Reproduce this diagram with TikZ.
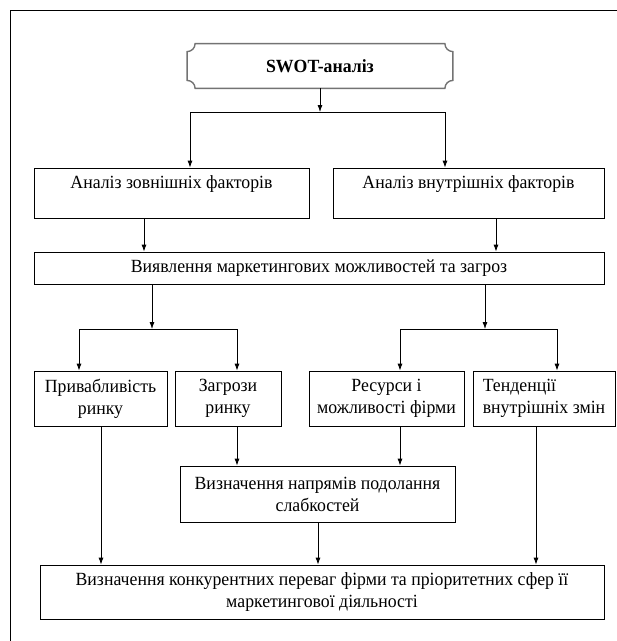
\documentclass[tikz,border=0pt]{standalone}
\usepackage{fontspec}
\setmainfont[FakeStretch=0.955]{Liberation Serif}
\usetikzlibrary{arrows.meta}
\begin{document}
\begin{tikzpicture}[x=1pt, y=1pt, line width=0.8pt, >={Latex[length=7pt,width=5pt]},
  main/.style = {draw, inner sep=0pt, align=center, font=\fontsize{18.6}{22}\selectfont},
  plaque/.style = {draw=black!55, line width=1.4pt}]
\useasboundingbox (0,0) rectangle (617,-641);
\draw[line width=1pt] (617,-10) -- (10,-10) -- (10,-641);
\node[main, draw=none, minimum width=265pt, minimum height=44pt] (1) at (320,-66) {\textbf{SWOT-аналіз}};
\draw[plaque] ([xshift=8pt]1.north west) -- ([xshift=-8pt]1.north east) arc[start angle=180, end angle=270, radius=8pt]
  -- ([yshift=8pt]1.south east) arc[start angle=90, end angle=180, radius=8pt]
  -- ([xshift=8pt]1.south west) arc[start angle=0, end angle=90, radius=8pt]
  -- ([yshift=-8pt]1.north west) arc[start angle=270, end angle=360, radius=8pt] -- cycle;
\node[main, minimum width=275pt, minimum height=50pt] (2) at (171.5,-193) {Аналіз зовнішніх факторів\\ \mbox{}};
\node[main, minimum width=271pt, minimum height=50pt] (3) at (468.5,-193) {Аналіз внутрішніх факторів\\ \mbox{}};
\node[main, minimum width=570pt, minimum height=32pt] (4) at (319,-268) {Виявлення маркетингових можливостей та загроз};
\node[main, minimum width=133pt, minimum height=55pt] (5) at (100.5,-398.5) {Привабливість\\ринку};
\node[main, minimum width=106pt, minimum height=55pt] (6) at (228,-398.5) {Загрози\\ринку};
\node[main, minimum width=155pt, minimum height=55pt] (7) at (386.5,-398.5) {Ресурси і\\можливості фірми};
\node[main, minimum width=142pt, minimum height=55pt, align=left] (8) at (544,-398.5) {Тенденції\\внутрішніх змін};
\node[main, minimum width=275pt, minimum height=56pt] (9) at (317.5,-494) {Визначення напрямів подолання\\слабкостей};
\node[main, minimum width=564pt, minimum height=54pt] (10) at (322,-592) {Визначення конкурентних переваг фірми та пріоритетних сфер її\\маркетингової діяльності};
\coordinate (a) at (320,-112);
\coordinate (al) at (190,-112);
\coordinate (ar) at (445,-112);
\coordinate (b) at (152,-329);
\coordinate (bl) at (79,-329);
\coordinate (br) at (237,-329);
\coordinate (c) at (485,-329);
\coordinate (cl) at (400,-329);
\coordinate (cr) at (557,-329);
\draw[->] (1) -- (a);
\draw (al) -- (ar);
\draw[->] (al) -- (al |- 2.north);
\draw[->] (ar) -- (ar |- 3.north);
\draw[->] (2.south -| 144,0) -- (144,0 |- 4.north);
\draw[->] (3.south -| 496,0) -- (496,0 |- 4.north);
\draw[->] (4.south -| b) -- (b);
\draw[->] (4.south -| c) -- (c);
\draw (bl) -- (br);
\draw (cl) -- (cr);
\draw[->] (bl) -- (bl |- 5.north);
\draw[->] (br) -- (br |- 6.north);
\draw[->] (cl) -- (cl |- 7.north);
\draw[->] (cr) -- (cr |- 8.north);
\draw[->] (6.south -| br) -- (br |- 9.north);
\draw[->] (7.south -| cl) -- (cl |- 9.north);
\draw[->] (5.south -| 101,0) -- (101,0 |- 10.north);
\draw[->] (9.south -| 318,0) -- (318,0 |- 10.north);
\draw[->] (8.south -| 536,0) -- (536,0 |- 10.north);
\end{tikzpicture}
\end{document}
